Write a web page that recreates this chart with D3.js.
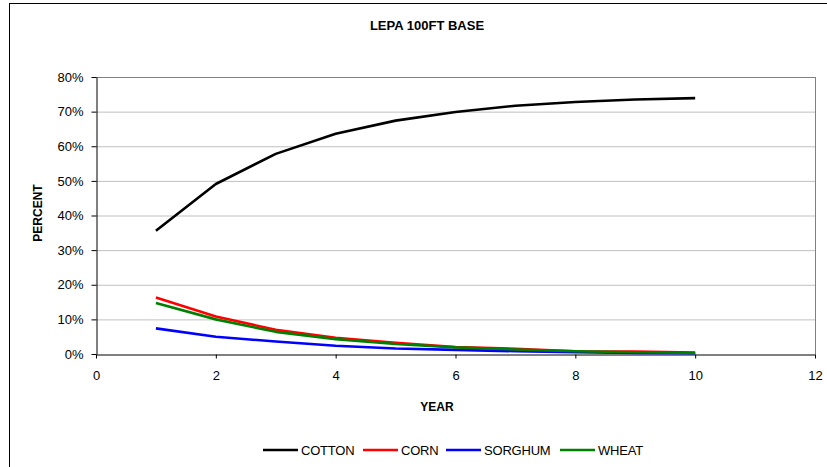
<!DOCTYPE html>
<html><head><meta charset="utf-8">
<script src="https://cdn.jsdelivr.net/npm/d3@7"></script>
<style>body{margin:0;background:#fff}svg{display:block;font-family:"Liberation Sans",Arial,sans-serif}</style>
</head><body><svg id="c" width="827" height="467"></svg>
<script>
const years = [1,2,3,4,5,6,7,8,9,10];
const cotton = [35.6,49.1,57.8,63.6,67.4,69.9,71.7,72.8,73.5,73.9];
const corn = [16.3,10.8,7.0,4.7,3.2,2.0,1.5,0.8,0.7,0.4];
const sorghum = [7.4,5.0,3.6,2.4,1.6,1.2,0.8,0.5,0.3,0.2];
const wheat = [14.7,10.0,6.4,4.3,2.9,1.9,1.3,0.8,0.5,0.3];
const seriesNames = ["COTTON","CORN","SORGHUM","WHEAT"];
const seriesColors = ["#000000","#ff0000","#0000ff","#008000"];
const xTicks = [0,2,4,6,8,10,12];
const yTicks = [0,10,20,30,40,50,60,70,80];
const seriesData = [cotton, corn, sorghum, wheat];

const svg = d3.select("#c");
svg.append("rect").attr("x",9.5).attr("y",3.5).attr("width",830).attr("height",480)
  .attr("fill","#fff").attr("stroke","#000").attr("stroke-width",1);

const L=96, R=815, T=77, B=354;
const x = d3.scaleLinear().domain([0,12]).range([L,R]);
const y = d3.scaleLinear().domain([0,80]).range([B,T]);

// gridlines
svg.append("g").selectAll("line").data(yTicks.slice(1)).join("line")
  .attr("x1",L).attr("x2",R).attr("y1",d=>y(d)+0.5).attr("y2",d=>y(d)+0.5)
  .attr("stroke",d=>d===80?"#808080":"#c0c0c0").attr("stroke-width",1);
// plot border right
svg.append("line").attr("x1",R+0.5).attr("x2",R+0.5).attr("y1",T).attr("y2",B).attr("stroke","#808080");

const xAxis = svg.append("g").attr("transform",`translate(0,${B+0.5})`)
  .call(d3.axisBottom(x).tickValues(xTicks).tickSize(4).tickSizeOuter(0).tickPadding(12));
const yAxis = svg.append("g").attr("transform",`translate(${L+0.5},0)`)
  .call(d3.axisLeft(y).tickValues(yTicks).tickFormat(d=>d+"%").tickSize(5).tickSizeOuter(0).tickPadding(8));
[xAxis,yAxis].forEach(g=>{
  g.selectAll("text").attr("font-size","13px").attr("fill","#000").attr("font-family","'Liberation Sans',Arial,sans-serif");
  g.selectAll("line,path").attr("stroke","#000");
});

const line = d3.line().x((d,i)=>x(years[i])).y(d=>y(d));
seriesData.forEach((s,i)=>{
  svg.append("path").datum(s).attr("d",line).attr("fill","none")
    .attr("stroke",seriesColors[i]).attr("stroke-width",2.6).attr("stroke-linejoin","round");
});

svg.append("text").attr("x",427).attr("y",30).attr("text-anchor","middle")
  .attr("font-size","13px").attr("font-weight","bold").text("LEPA 100FT BASE");
svg.append("text").attr("x",437).attr("y",411).attr("text-anchor","middle")
  .attr("font-size","12px").attr("font-weight","bold").text("YEAR");
svg.append("text").attr("transform","translate(42,213) rotate(-90)").attr("text-anchor","middle")
  .attr("font-size","12px").attr("font-weight","bold").text("PERCENT");

const legX = [263,363,446,560];
const lg = svg.append("g");
seriesNames.forEach((n,i)=>{
  lg.append("line").attr("x1",legX[i]).attr("x2",legX[i]+35).attr("y1",450).attr("y2",450)
    .attr("stroke",seriesColors[i]).attr("stroke-width",2.6);
  lg.append("text").attr("x",legX[i]+38).attr("y",455).attr("font-size","13px")
    .attr("letter-spacing","-0.2px").text(n);
});
</script></body></html>
